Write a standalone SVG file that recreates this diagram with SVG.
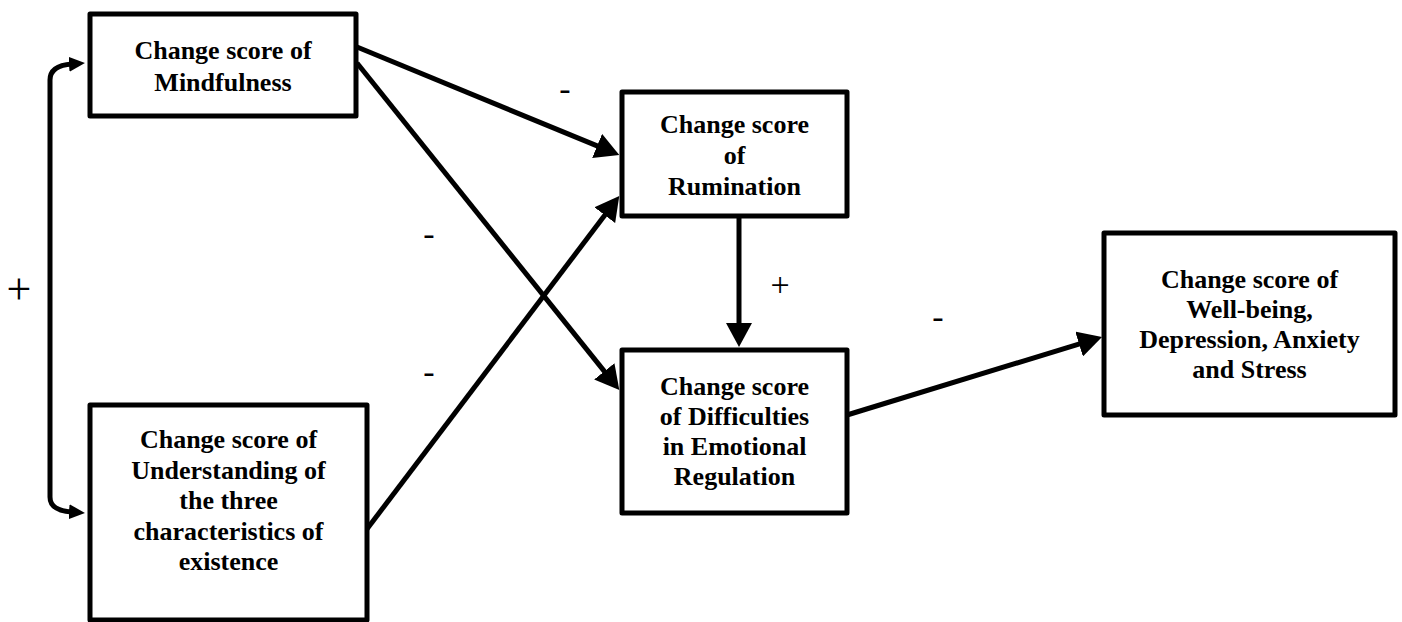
<svg xmlns="http://www.w3.org/2000/svg" width="1402" height="622" viewBox="0 0 1402 622">
  <style>
    .box { fill: #ffffff; stroke: #000000; stroke-width: 5; stroke-linejoin: round; }
    .lbl { font-family: "Liberation Serif", "Times New Roman", serif; font-weight: bold; font-size: 26px; fill: #000000; text-anchor: middle; }
    .sign { font-family: "Liberation Serif", "Times New Roman", serif; fill: #000000; text-anchor: middle; }
    .edge { fill: none; stroke: #000000; stroke-width: 5; }
  </style>
  <defs>
    <marker id="arrow" markerUnits="userSpaceOnUse" viewBox="0 0 24 26" markerWidth="24" markerHeight="26" refX="4" refY="13" orient="auto">
      <path d="M0,0 L24,13 L0,26 z" fill="#000000"/>
    </marker>
    <marker id="arrowSmall" markerUnits="userSpaceOnUse" viewBox="0 0 16 15" markerWidth="16" markerHeight="15" refX="3" refY="7.5" orient="auto-start-reverse">
      <path d="M0,0 L16,7.5 L0,15 z" fill="#000000"/>
    </marker>
  </defs>

  <!-- connectors -->
  <g id="connectors">
    <path class="edge" d="M 72 64 C 58 65, 50 70, 50 80 L 50 497 C 50 507, 58 511, 72 512" marker-start="url(#arrowSmall)" marker-end="url(#arrowSmall)"/>
    <line class="edge" x1="357" y1="47" x2="600.8" y2="147.4" marker-end="url(#arrow)"/>
    <line class="edge" x1="357" y1="63" x2="606.8" y2="374.4" marker-end="url(#arrow)"/>
    <line class="edge" x1="367" y1="529" x2="607.2" y2="212" marker-end="url(#arrow)"/>
    <line class="edge" x1="739" y1="216" x2="739" y2="327" marker-end="url(#arrow)"/>
    <line class="edge" x1="847" y1="415" x2="1082.9" y2="342.9" marker-end="url(#arrow)"/>
  </g>

  <!-- path signs -->
  <g id="signs">
    <text class="sign" x="19" y="304" font-size="44">+</text>
    <text class="sign" x="565" y="100" font-size="34">-</text>
    <text class="sign" x="429" y="245" font-size="34">-</text>
    <text class="sign" x="429" y="383" font-size="34">-</text>
    <text class="sign" x="780" y="295.5" font-size="34">+</text>
    <text class="sign" x="938" y="328" font-size="34">-</text>
  </g>

  <g id="mindfulness">
    <rect class="box" x="90" y="14" width="266" height="102"/>
    <text class="lbl" x="223" y="59">Change score of</text>
    <text class="lbl" x="223" y="91">Mindfulness</text>
  </g>

  <g id="understanding">
    <rect class="box" x="90" y="405" width="277" height="215"/>
    <text class="lbl" x="228.5" y="448">Change score of</text>
    <text class="lbl" x="228.5" y="478.5">Understanding of</text>
    <text class="lbl" x="228.5" y="509">the three</text>
    <text class="lbl" x="228.5" y="539.5">characteristics of</text>
    <text class="lbl" x="228.5" y="570">existence</text>
  </g>

  <g id="rumination">
    <rect class="box" x="622" y="92" width="225" height="124"/>
    <text class="lbl" x="734.5" y="133">Change score</text>
    <text class="lbl" x="734.5" y="163.5">of</text>
    <text class="lbl" x="734.5" y="195">Rumination</text>
  </g>

  <g id="emotional-regulation">
    <rect class="box" x="622" y="350" width="225" height="163"/>
    <text class="lbl" x="734.5" y="395">Change score</text>
    <text class="lbl" x="734.5" y="425">of Difficulties</text>
    <text class="lbl" x="734.5" y="455">in Emotional</text>
    <text class="lbl" x="734.5" y="485">Regulation</text>
  </g>

  <g id="wellbeing">
    <rect class="box" x="1104" y="233" width="291" height="182"/>
    <text class="lbl" x="1249.5" y="288">Change score of</text>
    <text class="lbl" x="1249.5" y="318">Well-being,</text>
    <text class="lbl" x="1249.5" y="348">Depression, Anxiety</text>
    <text class="lbl" x="1249.5" y="378">and Stress</text>
  </g>
</svg>
